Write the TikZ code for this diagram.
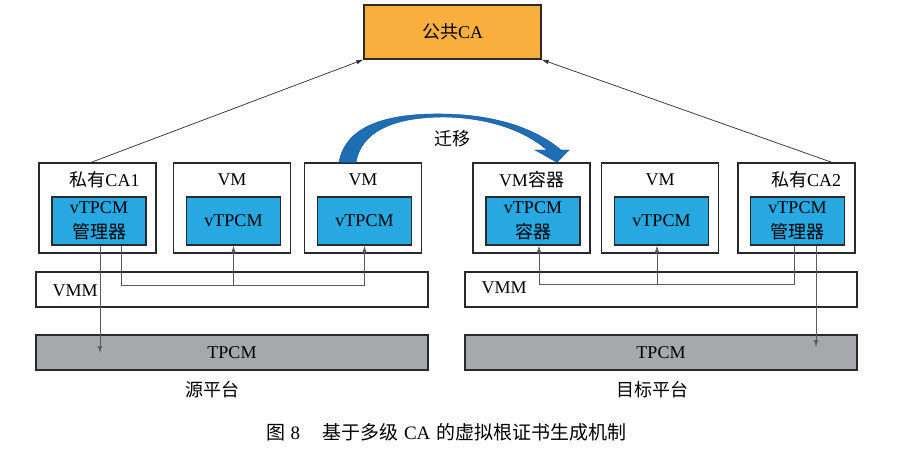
\documentclass[tikz,border=0pt]{standalone}
\usepackage{fontspec}
\setmainfont{Liberation Serif}
\newfontfamily\cjk{Noto Sans CJK SC}
\usetikzlibrary{arrows.meta,positioning}
\definecolor{CAor}{HTML}{F9AF3E}
\definecolor{Chip}{HTML}{27A8E0}
\definecolor{Hw}{HTML}{A7A8AC}
\definecolor{Mig}{HTML}{1E6EB6}
\definecolor{MigD}{HTML}{174F8C}
\definecolor{Ink}{HTML}{2A2A2A}
\definecolor{Wire}{HTML}{5A5A5A}
\tikzset{
  lab/.style={font=\fontsize{18}{25}\selectfont},
  box/.style={draw=Ink,line width=1.2pt,minimum width=117pt,minimum height=90pt,inner sep=0pt},
  chip/.style={box,lab,fill=Chip,minimum width=94pt,minimum height=48pt,align=center},
  layer/.style={box,minimum width=392pt,minimum height=35pt},
  wire/.style={Wire,line width=0.7pt},
  tip/.style={wire,-{Latex[length=7pt,width=4.5pt]}},
}

\begin{document}
\begin{tikzpicture}[x=1pt,y=-1pt]
  \useasboundingbox (0,0) rectangle (908,449);
  \node[box,lab,fill=CAor,minimum width=177pt,minimum height=54pt] (pubca) at (452.5,32) {{\cjk 公共}CA};
  \foreach \n/\x/\ix/\tx/\ttl/\txt in {
    1/97.5/99/104.5/{{\cjk 私有}CA1}/{vTPCM\\{\cjk 管理器}},
    2/232/233.5/232/{VM}/{vTPCM},
    3/363/364.5/363/{VM}/{vTPCM},
    4/531.5/533/531.5/{VM{\cjk 容器}}/{vTPCM\\{\cjk 容器}},
    5/660/661.5/660/{VM}/{vTPCM},
    6/796.5/797.5/806/{{\cjk 私有}CA2}/{vTPCM\\{\cjk 管理器}}} {
    \node[box] (vm\n) at (\x,208) {};
    \node[lab] (ttl\n) at (\tx,180) {\ttl};
    \node[chip] (in\n) at (\ix,221) {\txt};
  }
  % source and target platform layers
  \node[layer] (vmmL) at (232,289.5) {};
  \node[layer] (vmmR) at (661,289.5) {};
  \node[lab,anchor=west] (vmmtL) at (49,291) {VMM};
  \node[lab,anchor=west] (vmmtR) at (478,288) {VMM};
  \node[layer,lab,fill=Hw] (tpcmL) at (232,352.5) {TPCM};
  \node[layer,lab,fill=Hw] (tpcmR) at (661,352.5) {TPCM};
  \node[lab] (srcL) at (212,390) {\cjk 源平台};
  \node[lab] (dstR) at (652,390) {\cjk 目标平台};
  \node[lab,font=\fontsize{19}{22}\selectfont,anchor=west] (cap) at (263,432) {{\cjk 图}\hspace{5pt}8\hspace{22pt}{\cjk 基于多级}\hspace{6pt}CA\hspace{6pt}{\cjk 的虚拟根证书生成机制}};
  % links to the public CA
  \draw[tip,Ink] ([xshift=-6.5pt]vm1.north) -- (pubca.south west);
  \draw[tip,Ink] ([xshift=35.5pt]vm6.north) -- (pubca.south east);
  % wiring on the source side
  \coordinate (busL) at (0,285);
  \coordinate (hitL) at (100,353);
  \draw[tip] (in1.south -| hitL) -- (hitL);
  \draw[tip] ([xshift=22pt]in1.south) |- (in3.south |- busL) -- (in3.south);
  \draw[tip] (in2.south |- busL) -- (in2.south);
  % wiring on the target side
  \coordinate (busR) at (0,284);
  \coordinate (hitR) at (816,347);
  \draw[tip] (in6.south -| hitR) -- (hitR);
  \draw[tip] ([xshift=-3.5pt]in6.south) |- ([xshift=6pt]in4.south |- busR) -- ([xshift=6pt]in4.south);
  \draw[tip] ([xshift=-4.5pt]in5.south |- busR) -- ([xshift=-4.5pt]in5.south);
  % migration
  \fill[Mig,draw=MigD,line width=0.4pt] ([xshift=-24pt]vm3.north)
    .. controls (346,122) and (395,113) .. (445,114)
    .. controls (495,115) and (535,128) .. (561,150) -- (569,150)
    -- ([xshift=25.5pt]vm4.north) -- (535,150) -- (547,150)
    .. controls (525,131) and (490,118) .. (445,117)
    .. controls (400,117) and (362,128) .. ([xshift=-7pt]vm3.north) -- cycle;
  \node[lab,font=\fontsize{18}{20}\selectfont\cjk] (mig) at (452,139) {迁移};
\end{tikzpicture}
\end{document}
